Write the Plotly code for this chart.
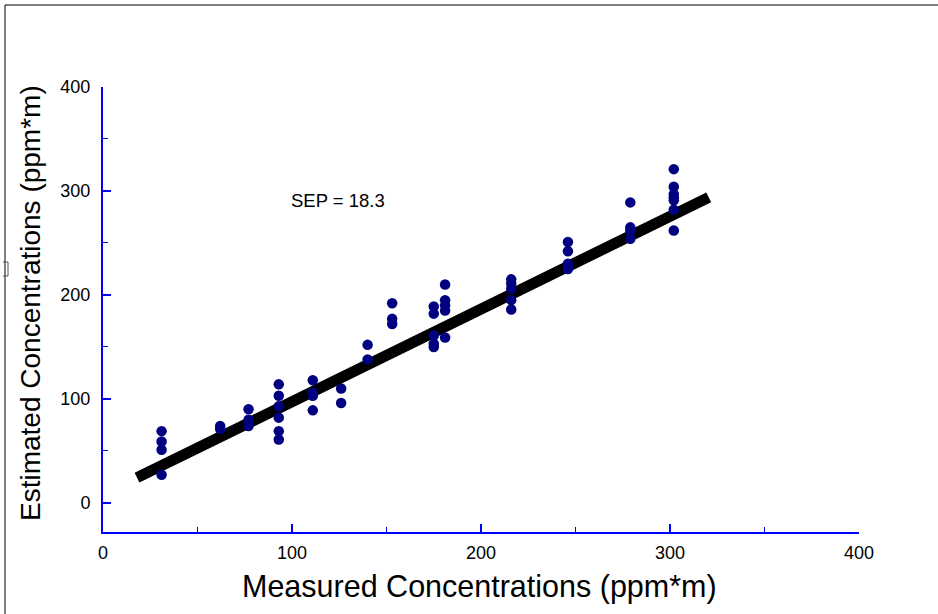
import plotly.graph_objects as go

# Measured (x) and estimated (y) concentrations, ppm*m
measured = [31, 31, 31, 31,
            62, 62,
            77, 77, 77,
            93, 93, 93, 93, 93, 93,
            111, 111, 111, 111,
            126, 126,
            140, 140,
            153, 153, 153,
            175, 175, 175, 175, 175,
            181, 181, 181, 181, 181,
            216, 216, 216, 216, 216,
            246, 246, 246, 246,
            279, 279, 279, 279,
            302, 302, 302, 302, 302, 302, 302]
estimated = [69, 59, 51, 27,
             74, 71,
             90, 80, 74,
             114, 103, 93, 82, 69, 61,
             118, 106, 103, 89,
             110, 96,
             152, 138,
             192, 177, 172,
             189, 182, 161, 153, 150,
             210, 195, 190, 185, 159,
             215, 211, 206, 195, 186,
             251, 242, 230, 225,
             289, 265, 262, 254,
             321, 304, 297, 294, 291, 282, 262]

# Regression line end points
fit_x = [18, 320.5]
fit_y = [24.3, 293.8]

x_ticks = [0, 100, 200, 300, 400]
y_ticks = [0, 100, 200, 300, 400]
sep_text = "SEP = 18.3"
x_title = "Measured Concentrations (ppm*m)"
y_title = "Estimated Concentrations (ppm*m)"

W, H = 938, 614
L, R, T, B = 103, 859, 87, 532  # plot area in pixels


def px_to_paper(px, py):
    return (px - L) / (R - L), (B - py) / (B - T)


FONT = "Liberation Sans, Arial, sans-serif"
TICKFONT = "Liberation Sans Narrow, Arial Narrow, Liberation Sans, Arial, sans-serif"

fig = go.Figure()
fig.add_trace(go.Scatter(
    x=fit_x, y=fit_y, mode="lines",
    line=dict(color="black", width=11),
    hoverinfo="skip", showlegend=False,
))
fig.add_trace(go.Scatter(
    x=measured, y=estimated, mode="markers",
    marker=dict(color="#000080", size=10.5, line=dict(width=0)),
    showlegend=False,
))

axis_common = dict(
    showgrid=False, zeroline=False,
    showline=True, linecolor="#0000FF", linewidth=2,
    ticks="inside", tickcolor="#0000FF", tickwidth=2, ticklen=8,
    minor=dict(ticks="inside", tickcolor="#0000FF", tickwidth=1, ticklen=5, dtick=50),
    tickfont=dict(family=TICKFONT, size=18, color="black"),
    fixedrange=True,
)

fig.update_xaxes(range=[0, 400], tickvals=x_ticks, ticklabelstandoff=3, **axis_common)
fig.update_yaxes(range=[-28, 400], tickvals=y_ticks, ticklabelstandoff=7, **axis_common)

# Outer frame (top and left edges visible)
x0, y1 = px_to_paper(5, 5)
x1, y0 = px_to_paper(945, 625)
fig.add_shape(type="rect", xref="paper", yref="paper", x0=x0, x1=x1, y0=y0, y1=y1,
              line=dict(color="black", width=1), layer="below")
# small bracket mark on the left edge
bx0, by0 = px_to_paper(3, 262)
bx1, by1 = px_to_paper(8, 276)
fig.add_shape(type="path", xref="paper", yref="paper",
              path=f"M {bx0} {by0} L {bx1} {by0} L {bx1} {by1} L {bx0} {by1}",
              line=dict(color="#555555", width=1))

tx, ty = px_to_paper(479.5, 586)
fig.add_annotation(text=x_title, xref="paper", yref="paper", x=tx, y=ty,
                   xanchor="center", yanchor="middle", showarrow=False,
                   font=dict(family=FONT, size=30.5, color="black"))
ax_, ay_ = px_to_paper(30, 303)
fig.add_annotation(text=y_title, xref="paper", yref="paper", x=ax_, y=ay_,
                   xanchor="center", yanchor="middle", showarrow=False, textangle=-90,
                   font=dict(family=FONT, size=28, color="black"))
fig.add_annotation(text=sep_text, x=98.5, y=291, xref="x", yref="y",
                   xanchor="left", yanchor="middle", showarrow=False,
                   font=dict(family=FONT, size=18.5, color="black"))

fig.update_layout(
    width=W, height=H,
    margin=dict(l=L, r=W - R, t=T, b=H - B, pad=0),
    paper_bgcolor="white", plot_bgcolor="white",
    showlegend=False,
)

fig.write_html(
    "out.html",
    config={"displayModeBar": False},
    post_script="document.body.style.margin='0';document.body.style.overflow='hidden';",
)
